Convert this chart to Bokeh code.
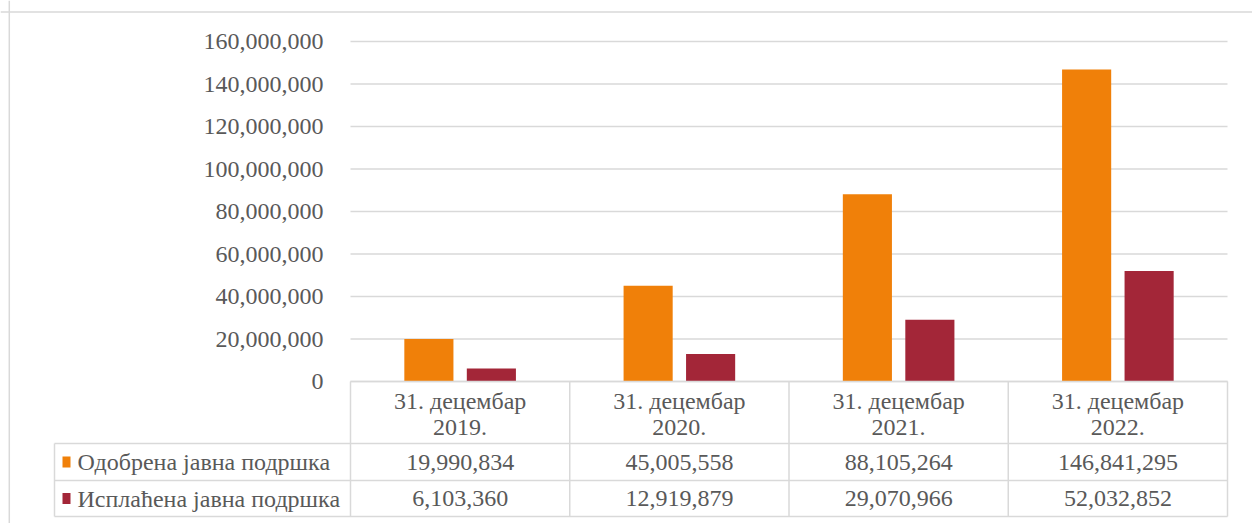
from bokeh.plotting import figure
from bokeh.models import (Range1d, LinearAxis, FixedTicker, NumeralTickFormatter, Span)
from bokeh.core.properties import value
from bokeh.embed import file_html
from bokeh.resources import INLINE

# ---------------- data ----------------
categories = ["31. децембар\n2019.", "31. децембар\n2020.",
              "31. децембар\n2021.", "31. децембар\n2022."]
series_names = ["Одобрена јавна подршка", "Исплаћена јавна подршка"]
odobrena = [19990834, 45005558, 88105264, 146841295]
isplacena = [6103360, 12919879, 29070966, 52032852]
y_ticks = [0, 20000000, 40000000, 60000000, 80000000,
           100000000, 120000000, 140000000, 160000000]

# ---------------- styles / layout ----------------
ORANGE = "#F08009"
RED = "#A32638"
TXT = "#595959"
GRID = "#D9D9D9"
FONT = "Liberation Serif"
FS = "24px"

W, H = 1252, 523
PX_CAT = 219.25          # pixels per category column
PX_M = 2.125 / 1e6       # pixels per unit value
X0 = 350                 # canvas x of plot-area left
Y0 = 381                 # canvas y of value 0

def dx(px):  # canvas x -> data x
    return (px - X0) / PX_CAT

def dy(py):  # canvas y -> data y
    return (Y0 - py) / PX_M

p = figure(width=W, height=H, output_backend="svg", toolbar_location=None,
           x_axis_type=None, y_axis_type=None,
           x_range=Range1d(dx(0), dx(W)), y_range=Range1d(dy(H), dy(0)),
           min_border=0, outline_line_color=None)
p.xgrid.visible = False
p.ygrid.visible = False
p.background_fill_color = "white"
p.border_fill_color = "white"

# y axis placed at plot-area left edge
yax = LinearAxis(fixed_location=0, ticker=FixedTicker(ticks=y_ticks),
                 formatter=NumeralTickFormatter(format="0,0"),
                 axis_line_color=None, major_tick_line_color=None,
                 minor_tick_line_color=None, major_label_standoff=21,
                 major_label_text_font=FONT, major_label_text_font_size=FS,
                 major_label_text_color=TXT)
p.add_layout(yax, "left")

ncat = len(categories)
# gridlines
p.segment(x0=[0] * len(y_ticks), x1=[ncat] * len(y_ticks), y0=y_ticks, y1=y_ticks,
          line_color=GRID, line_width=1.3)

# bars
xs = [i + 0.5 for i in range(ncat)]
bw = 0.224
off = 0.1425
p.vbar(x=[x - off for x in xs], top=odobrena, width=bw, bottom=0,
       fill_color=ORANGE, line_color=None)
p.vbar(x=[x + off for x in xs], top=isplacena, width=bw, bottom=0,
       fill_color=RED, line_color=None)

# ---------------- data table ----------------
y_hdr = 0
y_r1 = dy(443)
y_r2 = dy(480)
y_bot = dy(516)
x_leg = dx(54)

segs_x0, segs_x1, segs_y0, segs_y1 = [], [], [], []
# horizontal lines
segs_x0 += [0, x_leg, x_leg, x_leg]
segs_x1 += [ncat] * 4
segs_y0 += [y_hdr, y_r1, y_r2, y_bot]
segs_y1 += [y_hdr, y_r1, y_r2, y_bot]
# vertical lines
for i in range(ncat + 1):
    segs_x0.append(i); segs_x1.append(i); segs_y0.append(y_hdr); segs_y1.append(y_bot)
segs_x0.append(x_leg); segs_x1.append(x_leg); segs_y0.append(y_r1); segs_y1.append(y_bot)
p.segment(x0=segs_x0, x1=segs_x1, y0=segs_y0, y1=segs_y1,
          line_color=GRID, line_width=1.5)

# header texts
p.text(x=xs, y=[dy(413)] * ncat, text=categories,
       text_font=value(FONT), text_font_size=FS, text_color=TXT,
       text_align="center", text_baseline="middle", text_line_height=1.0)

# value rows
row_mid = [(y_r1 + y_r2) / 2, (y_r2 + y_bot) / 2]
for vals, ym in zip([odobrena, isplacena], row_mid):
    p.text(x=xs, y=[ym] * ncat, text=[f"{v:,}" for v in vals],
           text_font=value(FONT), text_font_size=FS, text_color=TXT,
           text_align="center", text_baseline="middle")

# legend keys + names
p.rect(x=[dx(66)] * 2, y=row_mid, width=8, height=11,
       width_units="screen", height_units="screen",
       fill_color=[ORANGE, RED], line_color=None)
p.text(x=[dx(77)] * 2, y=row_mid, text=series_names,
       text_font=value(FONT), text_font_size=FS, text_color=TXT,
       text_align="left", text_baseline="middle")

# chart border (top and left edges visible in reference)
p.add_layout(Span(location=dy(11.5), dimension="width", line_color=GRID, line_width=1.5))
p.add_layout(Span(location=dx(8.8), dimension="height", line_color=GRID, line_width=1.5))

open("out.html", "w").write(file_html(p, INLINE))
